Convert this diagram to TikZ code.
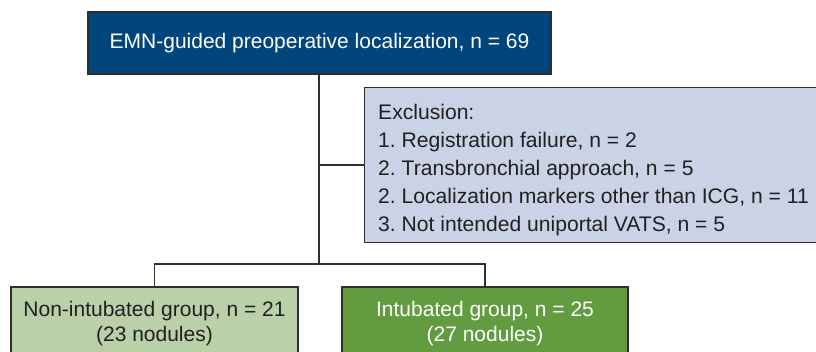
\documentclass[tikz,border=0pt]{standalone}
\usepackage{fontspec}
\setmainfont{Liberation Sans}
\frenchspacing
\definecolor{linec}{HTML}{2E2E2E}
\definecolor{topblue}{HTML}{00457C}
\definecolor{exclfill}{HTML}{C9D3E5}
\definecolor{lightgreen}{HTML}{BAD0A8}
\definecolor{darkgreen}{HTML}{629B40}
\definecolor{darktext}{HTML}{231F20}
\begin{document}
\begin{tikzpicture}[x=1pt,y=-1pt,
  box/.style={draw=linec, line width=1.4pt, rectangle, inner sep=0pt,
    font=\fontsize{21}{25}\selectfont\frenchspacing, align=center},
  conn/.style={draw=linec, line width=1.4pt},
  listtext/.style={inner sep=0pt, align=left, text=darktext,
    font=\fontsize{21.1}{28}\selectfont\frenchspacing}]
\useasboundingbox (0,0) rectangle (816,352);
\clip (0,0) rectangle (816,352);
\node[box, fill=topblue, text=white, minimum width=463pt, minimum height=62pt]
  (top) at (319.5,43) {EMN-guided preoperative localization, n = 69};
\node[box, fill=exclfill, minimum width=470pt, minimum height=155pt, anchor=north west]
  (excl) at (364,87) {};
\node[listtext, anchor=north west] (excltext) at (378,104.5)
  {Exclusion:\\
   1. Registration failure, n = 2\\
   2. Transbronchial approach, n = 5\\
   2. Localization markers other than ICG, n = 11\\
   3. Not intended uniportal VATS, n = 5};
\node[box, fill=lightgreen, text=darktext, minimum width=287pt, minimum height=74pt]
  (nonint) at (154.5,324) {Non-intubated group, n = 21\\(23 nodules)};
\node[box, fill=darkgreen, text=white, minimum width=286pt, minimum height=74pt]
  (intub) at (485,324) {Intubated group, n = 25\\(27 nodules)};
\coordinate (split) at (319,264);
\coordinate (branch) at (split |- excl.west);
\draw[conn] (top.south -| split) -- (split);
\draw[conn] (branch) -- (excl.west);
\draw[conn] (nonint.north) |- (split) -| (intub.north);
\end{tikzpicture}
\end{document}
